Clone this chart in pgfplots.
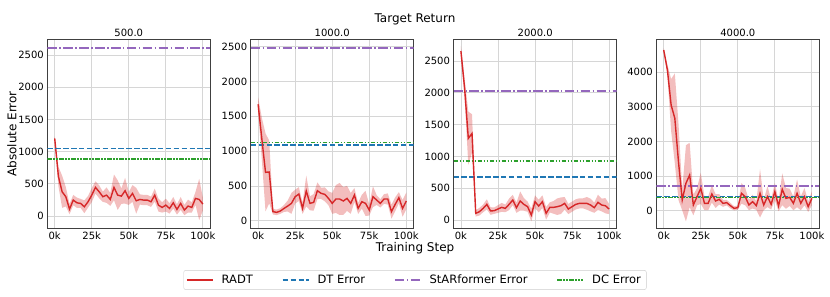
\documentclass[border=0pt]{standalone}
\usepackage{fontspec}
\setmainfont{DejaVu Sans}
\usepackage{pgfplots}
\pgfplotsset{compat=1.18}
\usepgfplotslibrary{fillbetween}
\usepackage{pgfplotstable}
\definecolor{tred}{HTML}{D62728}
\definecolor{tblue}{HTML}{1F77B4}
\definecolor{tpurple}{HTML}{9467BD}
\definecolor{tgreen}{HTML}{2CA02C}
\newcommand\tickfont{\fontsize{10}{12}\selectfont}
\newcommand\legfont{\fontsize{11.5}{13}\selectfont}
\newcommand\labfont{\fontsize{12}{14}\selectfont}

\pgfplotstableread{
x m s
0 1206 30
2.5 615 150
5 377 250
7.5 300 150
10 108 80
12.5 248 80
15 206 80
17.5 196 70
20 144 100
22.5 222 90
25 325 110
27.5 445 95
30 377 100
32.5 300 80
35 325 120
37.5 258 100
40 445 200
42.5 325 230
45 310 120
47.5 393 200
50 274 100
52.5 351 130
55 237 200
57.5 258 80
60 248 80
62.5 248 80
65 222 80
67.5 325 100
70 170 100
72.5 134 80
75 170 100
77.5 118 80
80 206 90
82.5 103 80
85 196 100
87.5 93 80
90 155 100
92.5 134 80
95 274 100
97.5 258 320
100 186 100
}\dataA

\pgfplotstableread{
x m s
0 1672 100
2.5 1180 300
5 695 560
7.5 700 450
10 130 40
12.5 120 40
15 139 40
17.5 177 50
20 211 80
22.5 249 150
25 345 100
27.5 383 100
30 177 80
32.5 427 220
35 249 100
37.5 264 120
40 431 120
42.5 393 80
45 379 100
47.5 321 100
50 249 150
52.5 312 200
55 312 230
57.5 283 200
60 321 180
62.5 249 150
65 369 100
67.5 177 80
70 273 100
72.5 249 180
75 153 80
77.5 345 150
80 297 70
82.5 249 60
85 312 70
87.5 312 80
90 130 100
92.5 235 100
95 331 80
97.5 177 120
100 283 120
}\dataB

\pgfplotstableread{
x m s
0 2657 80
2.5 2070 150
5 1284 420
7.5 1362 300
10 105 50
12.5 131 60
15 183 60
17.5 246 80
20 142 60
22.5 147 50
25 173 60
27.5 199 70
30 183 60
32.5 246 90
35 314 80
37.5 194 80
40 299 150
42.5 246 100
45 210 80
47.5 79 100
50 288 100
52.5 220 100
55 288 100
57.5 105 100
60 199 80
62.5 199 100
65 210 130
67.5 225 130
70 262 100
72.5 173 80
75 210 80
77.5 246 80
80 262 80
82.5 262 80
85 262 100
87.5 236 100
90 194 80
92.5 278 120
95 236 100
97.5 225 120
100 173 80
}\dataC

\pgfplotstableread{
x m s
0 4644 50
2.5 4066 150
5 3055 750
7.5 2669 1300
10 1400 1100
12.5 309 300
15 791 1100
17.5 1032 930
20 165 300
22.5 405 250
25 646 450
27.5 213 200
30 213 200
32.5 483 250
35 280 200
37.5 328 150
40 213 100
42.5 232 80
45 145 80
47.5 68 60
50 88 60
52.5 502 300
55 405 250
57.5 165 150
60 261 200
62.5 145 120
65 502 700
67.5 165 150
70 405 300
72.5 184 150
75 550 250
77.5 136 150
80 617 460
82.5 357 300
85 386 250
87.5 213 200
90 502 400
92.5 213 200
95 405 250
97.5 116 150
100 357 200
}\dataD

\pgfplotsset{
  panel/.style={
    scale only axis, width=163pt, height=189pt,
    anchor=south west,
    xmin=-5, xmax=105,
    xtick={0,25,50,75,100}, xticklabels={0k,25k,50k,75k,100k},
    grid=major, grid style={draw=black!16, line width=0.8pt},
    major tick length=0pt,
    axis line style={draw=black!75, line width=0.8pt},
    tick label style={font=\tickfont},
    scaled y ticks=false,
    legend image code/.code={\draw[##1] (0pt,0pt) -- (26pt,0pt);},
  },
  meanline/.style={tred, line width=1.4pt, opacity=1},
  dtline/.style={tblue, line width=1.6pt, opacity=1, dash pattern=on 5.5pt off 2.4pt},
  stline/.style={tpurple, line width=1.6pt, opacity=1, dash pattern=on 9.6pt off 2.4pt on 1.5pt off 2.4pt},
  dcline/.style={tgreen, line width=1.6pt, opacity=1, dash pattern=on 4.5pt off 1.5pt on 1.5pt off 1.5pt on 1.5pt off 1.5pt},
}

\begin{document}
\begin{tikzpicture}
\path (0pt,0pt) rectangle (830pt,297pt);

% Panel 1
\begin{axis}[panel, at={(47.3pt,68.7pt)},
  ymin=-190, ymax=2744, ytick={0,500,1000,1500,2000,2500},
  yticklabels={0,500,1000,1500,2000,2500},
  legend style={at={(2.256,-0.2735)}, anchor=center, legend columns=4,
    draw=black!20, rounded corners=2pt, font=\legfont,
    nodes={inner sep=3pt},
    /tikz/every odd column/.append style={column sep=5pt},
    /tikz/every even column/.append style={column sep=26pt},
    inner xsep=2.5pt, inner ysep=1.5pt}]
\addplot[name path=upA, draw=none, forget plot] table[x=x, y expr=\thisrow{m}+\thisrow{s}] {\dataA};
\addplot[name path=loA, draw=none, forget plot] table[x=x, y expr=\thisrow{m}-\thisrow{s}] {\dataA};
\addplot[tred, fill opacity=0.3, draw=none, forget plot] fill between[of=upA and loA];
\addplot[meanline] table[x=x, y=m] {\dataA};
\addlegendentry{\legfont RADT}
\addplot[dtline] coordinates {(-5,1050) (105,1050)};
\addlegendentry{\legfont DT Error}
\addplot[stline] coordinates {(-5,2612) (105,2612)};
\addlegendentry{\legfont StARformer Error}
\addplot[dcline] coordinates {(-5,890) (105,890)};
\addlegendentry{\legfont DC Error}
\end{axis}

% Panel 2
\begin{axis}[panel, at={(250.7pt,68.7pt)},
  ymin=-109, ymax=2606, ytick={0,500,1000,1500,2000,2500},
  yticklabels={0,500,1000,1500,2000,2500}]
\addplot[dtline] coordinates {(-5,1088) (105,1088)};
\addplot[stline] coordinates {(-5,2484) (105,2484)};
\addplot[dcline] coordinates {(-5,1121) (105,1121)};
\addplot[name path=upB, draw=none, forget plot] table[x=x, y expr=\thisrow{m}+\thisrow{s}] {\dataB};
\addplot[name path=loB, draw=none, forget plot] table[x=x, y expr=\thisrow{m}-\thisrow{s}] {\dataB};
\addplot[tred, fill opacity=0.3, draw=none, forget plot] fill between[of=upB and loB];
\addplot[meanline] table[x=x, y=m] {\dataB};
\end{axis}

% Panel 3
\begin{axis}[panel, at={(453.5pt,68.7pt)},
  ymin=-130, ymax=2841, ytick={0,500,1000,1500,2000,2500},
  yticklabels={0,500,1000,1500,2000,2500}]
\addplot[dtline] coordinates {(-5,676) (105,676)};
\addplot[stline] coordinates {(-5,2027) (105,2027)};
\addplot[dcline] coordinates {(-5,926) (105,926)};
\addplot[name path=upC, draw=none, forget plot] table[x=x, y expr=\thisrow{m}+\thisrow{s}] {\dataC};
\addplot[name path=loC, draw=none, forget plot] table[x=x, y expr=\thisrow{m}-\thisrow{s}] {\dataC};
\addplot[tred, fill opacity=0.3, draw=none, forget plot] fill between[of=upC and loC];
\addplot[meanline] table[x=x, y=m] {\dataC};
\end{axis}

% Panel 4
\begin{axis}[panel, at={(656.3pt,68.7pt)},
  ymin=-509, ymax=4954, ytick={0,1000,2000,3000,4000},
  yticklabels={0,1000,2000,3000,4000}]
\addplot[dtline] coordinates {(-5,405) (105,405)};
\addplot[stline] coordinates {(-5,714) (105,714)};
\addplot[dcline] coordinates {(-5,386) (105,386)};
\addplot[name path=upD, draw=none, forget plot] table[x=x, y expr=\thisrow{m}+\thisrow{s}] {\dataD};
\addplot[name path=loD, draw=none, forget plot] table[x=x, y expr=\thisrow{m}-\thisrow{s}] {\dataD};
\addplot[tred, fill opacity=0.3, draw=none, forget plot] fill between[of=upD and loD];
\addplot[meanline] table[x=x, y=m] {\dataD};
\end{axis}

\node[font=\tickfont] at (128.8pt,264pt) {500.0};
\node[font=\tickfont] at (332.2pt,264pt) {1000.0};
\node[font=\tickfont] at (535.2pt,264pt) {2000.0};
\node[font=\tickfont] at (737.8pt,264pt) {4000.0};
\node[font=\labfont] at (415pt,278pt) {Target Return};
\node[font=\labfont] at (415pt,49pt) {Training Step};
\node[font=\labfont, rotate=90] at (12pt,163pt) {Absolute Error};
\end{tikzpicture}
\end{document}
